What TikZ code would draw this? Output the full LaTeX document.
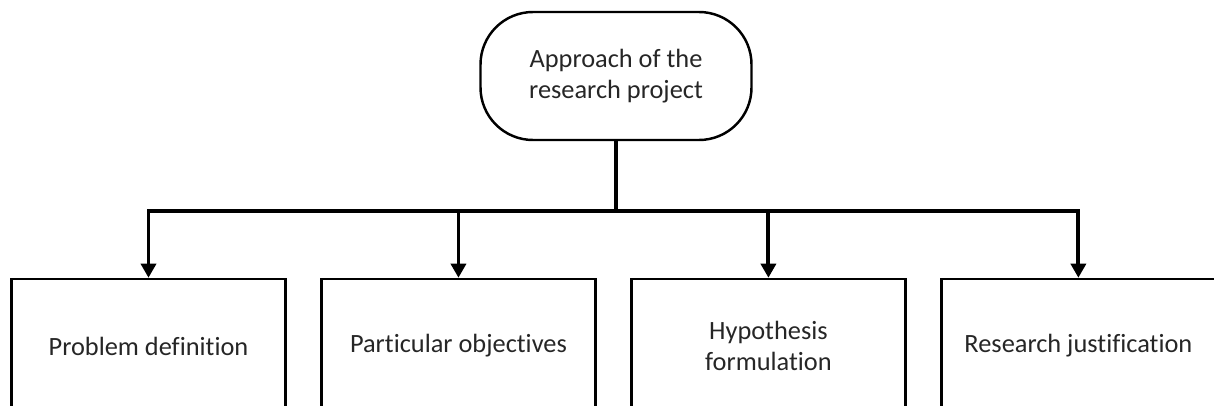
\documentclass[tikz,border=0pt]{standalone}
\usepackage{fontspec}
\setmainfont[Ligatures=NoCommon]{Carlito}
\usepackage{tikz}
\usetikzlibrary{arrows.meta, positioning, calc}

\begin{document}
\begin{tikzpicture}[
    node distance=0.67cm,
    start/.style={rectangle, rounded corners=1.05cm, draw, line width=1.4pt, minimum width=5.42cm, minimum height=2.56cm, align=center, text=black!85, font=\fontsize{15}{17.8}\selectfont},
    task/.style={rectangle, draw, line width=1.4pt, minimum width=5.48cm, minimum height=2.68cm, align=center, text=black!85, font=\fontsize{15}{17.8}\selectfont},
    arrow/.style={-{Triangle[width=8.5pt,length=8pt]}, line width=2.2pt}
]
    \clip (0,0) rectangle (24.28,-8.12);

    % Top node
    \node[start] (approach) at (12.32,-1.52) {Approach of the\\research project};

    % Stages
    \node[task] (problem) at (2.97,-6.92) {Problem definition};
    \node[task, right=of problem] (objectives) {Particular objectives};
    \node[task, right=of objectives] (hypothesis) {Hypothesis\\formulation};
    \node[task, right=of hypothesis] (justification) {Research justification};

    \coordinate (bus) at (0,-4.22);

    % Arrows - approach to stages
    \draw[arrow] (approach.south) -- (approach.south |- bus) -| (problem.north);
    \draw[arrow] (approach.south) -- (approach.south |- bus) -| (objectives.north);
    \draw[arrow] (approach.south) -- (approach.south |- bus) -| (hypothesis.north);
    \draw[arrow] (approach.south) -- (approach.south |- bus) -| (justification.north);
\end{tikzpicture}
\end{document}
